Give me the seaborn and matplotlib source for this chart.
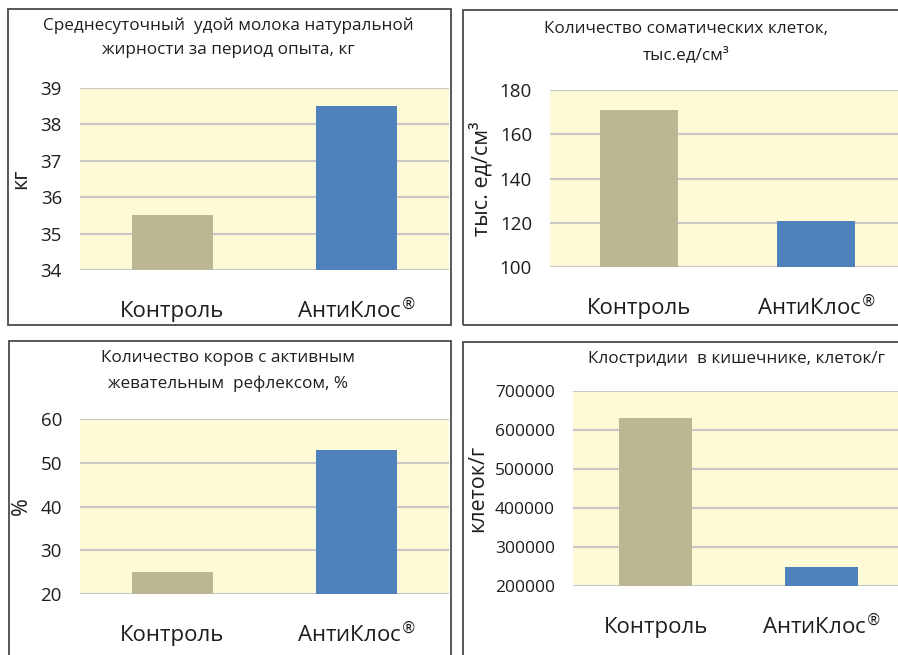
import numpy as np
import pandas as pd
import matplotlib
matplotlib.use("Agg")
import matplotlib.pyplot as plt
import seaborn as sns
from matplotlib.patches import Rectangle

# data
groups = ["Контроль", "АнтиКлос®"]
group_labels = ["Контроль", "АнтиКлос$^{®}$"]
milk_yield = [35.5, 38.5]
somatic_cells = [171, 121]
chewing_cows = [25, 53]
clostridia = [630000, 250000]

titles = [
    "Среднесуточный  удой молока натуральной\nжирности за период опыта, кг",
    "Количество соматических клеток,\nтыс.ед/см³",
    "Количество коров с активным\nжевательным  рефлексом, %",
    "Клостридии  в кишечнике, клеток/г",
]
ylabels = ["кг", "тыс. ед/см³", "%", "клеток/г"]
yticks = [
    [34, 35, 36, 37, 38, 39],
    [100, 120, 140, 160, 180],
    [20, 30, 40, 50, 60],
    [200000, 300000, 400000, 500000, 600000, 700000],
]

sns.set_theme(style="white")
plt.rcParams["font.family"] = ["Open Sans", "DejaVu Sans"]
plt.rcParams["mathtext.fontset"] = "dejavusans"

W, H = 898, 655
fig = plt.figure(figsize=(W / 100, H / 100), dpi=100)

bar_colors = ["#BBB794", "#4F81BD"]
bg = "#FEF9D7"
grid_c = "#C8C8C8"
txt_c = "#1E1E1E"

# axes boxes in pixels: left, top, right, bottom
boxes = [(80, 88, 449, 270), (550, 90, 898, 267), (80, 419, 449, 594), (573, 391, 898, 586)]
xlims = [(-0.5, 1.5), (-0.5, 1.46), (-0.5, 1.5), (-0.5, 1.46)]
label_x = [-0.133, -0.164, -0.130, -0.26]
title_pos = [(228, 38), (686, 42), (228, 371), (736, 359)]
frames = [(8, 9, 451, 325), (463, 10, 905, 325), (9, 341, 451, 665), (463, 342, 905, 665)]
values = [milk_yield, somatic_cells, chewing_cows, clostridia]
tick_size = [13.5, 13.5, 13.5, 12.5]

for (fx0, fy0, fx1, fy1) in frames:
    fig.patches.append(Rectangle((fx0 / W, 1 - fy1 / H), (fx1 - fx0) / W, (fy1 - fy0) / H,
                                 transform=fig.transFigure, fill=False,
                                 edgecolor="#4A4A4A", linewidth=1.3))

for i in range(4):
    l, t, r, b = boxes[i]
    ax = fig.add_axes([l / W, 1 - b / H, (r - l) / W, (b - t) / H])
    df = pd.DataFrame({"group": groups, "value": values[i]})
    sns.barplot(data=df, x="group", y="value", hue="group", palette=bar_colors,
                width=0.44, legend=False, ax=ax, saturation=1, linewidth=0)
    ax.set_facecolor(bg)
    ax.set_xlim(*xlims[i])
    ax.set_ylim(yticks[i][0], yticks[i][-1])
    ax.set_yticks(yticks[i])
    ax.set_yticklabels([str(v) for v in yticks[i]], fontsize=tick_size[i], color=txt_c)
    ax.set_xticks([0, 1])
    ax.set_xticklabels(group_labels, fontsize=16, color=txt_c, va="baseline")
    ax.tick_params(axis="y", length=0, pad=13)
    ax.tick_params(axis="x", length=0, pad=34)
    for s in ax.spines.values():
        s.set_visible(False)
    ax.yaxis.grid(True, color=grid_c, linewidth=1.5)
    ax.set_axisbelow(True)
    ax.set_xlabel("")
    ax.set_ylabel(ylabels[i], fontsize=15.5, color=txt_c)
    ax.yaxis.set_label_coords(label_x[i], 0.5)
    tx, ty = title_pos[i]
    fig.text(tx / W, 1 - ty / H, titles[i], ha="center", va="center",
             fontsize=12.3, color=txt_c, linespacing=1.7)

fig.savefig("out.png", dpi=100, facecolor="white")
